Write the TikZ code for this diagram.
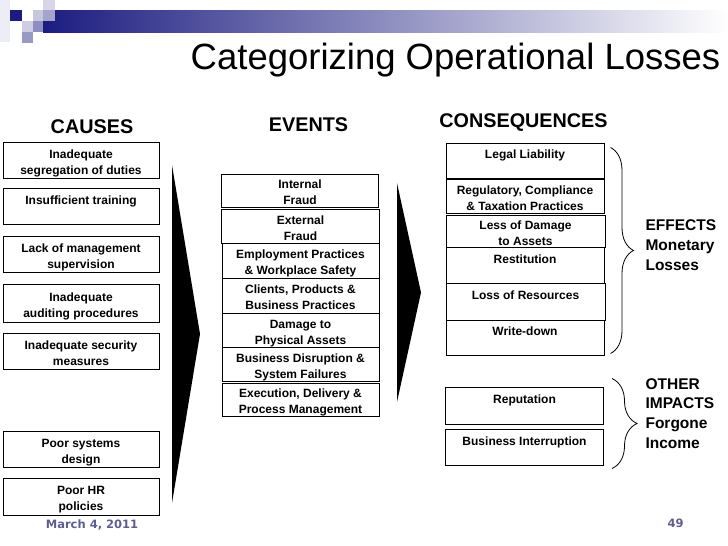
\documentclass[tikz,border=0pt]{standalone}
\usepackage{fontspec}
\setmainfont{Liberation Sans}
\newfontfamily\datefont{DejaVu Sans}
\usetikzlibrary{decorations.pathreplacing}
\usetikzlibrary{calc}
\definecolor{navy}{RGB}{28,28,128}
\definecolor{dategray}{RGB}{93,93,143}
\newcommand{\bigarrow}[4] % x of back edge, top y, bottom y, x of tip
{
	% black wedge pointing right
	\fill (#1,#2) -- (#4,{(#2+#3)/2}) -- (#1,#3) -- cycle;
}
\tikzset{
	box/.style={draw, line width=1pt, align=center, inner xsep=1pt, inner ysep=0pt,
		font=\fontsize{12}{16}\selectfont\bfseries,
		text height=28pt, text depth=0pt},
	causebox/.style={box, minimum width=156pt, minimum height=36pt},
	eventbox/.style={box, minimum width=157pt, minimum height=34pt},
	effectbox/.style={box, minimum width=158pt, minimum height=35pt},
	heading/.style={font=\fontsize{19.8}{22}\selectfont\bfseries, anchor=base},
	sidetext/.style={font=\fontsize{15.5}{19.7}\selectfont\bfseries, align=left, anchor=west},
	footer/.style={font=\datefont\fontsize{11.5}{14}\selectfont\bfseries, text=dategray, anchor=base},
	bracket/.style={decorate, line width=0.8pt},
}

\begin{document}
\begin{tikzpicture}[x=1pt, y=-1pt]
	% slide is 728 x 546, y runs downwards
	\useasboundingbox (0,0) rectangle (728,546);
	% header squares and bar
	\fill[navy!8] (0,0) rectangle (10,42);
	\shade[left color=navy, right color=white] (43,10) rectangle (728,32);
	\fill[navy] (10,10) rectangle (22,21);
	\fill[navy!22] (22,21) rectangle (33,32);
	\fill[navy!45] (22,32) rectangle (33,43);
	\fill[navy!25] (33,10) rectangle (43,21);
	\fill[navy!50] (33,21) rectangle (43,32);
	\fill[navy!18] (43,0) rectangle (55,10);
	\fill[navy!40] (43,10) rectangle (55,21);
	\node[font=\fontsize{36.5}{40}\selectfont, anchor=base] (title) at (455.5,69) {Categorizing Operational Losses};
	
	% column headings
	\node[heading] (causes) at (92,133) {CAUSES};
	\node[heading] (events) at (308.5,131) {EVENTS};
	\node[heading] (consequences) at (523.5,127) {CONSEQUENCES};
	
	% causes
	\node[causebox] (c1) at (81,160) {Inadequate\\segregation of duties};
	\node[causebox] (c2) at (81,206) {Insufficient training\\~};
	\node[causebox] (c3) at (81,254) {Lack of management\\supervision};
	\node[causebox, minimum height=38pt] (c4) at (81,303) {Inadequate\\auditing procedures};
	\node[causebox] (c5) at (81,351) {Inadequate security\\measures};
	\node[causebox] (c6) at (81,449) {Poor systems\\design};
	\node[causebox, minimum height=37pt] (c7) at (81,496.5) {Poor HR\\policies};
	
	% events
	\node[eventbox, minimum height=33pt] (e1) at (300,190.5) {Internal\\Fraud};
	\node[eventbox, minimum width=158pt] (e2) at (300.5,226) {External\\Fraud};
	\node[eventbox, minimum height=35pt] (e3) at (300.5,260.5) {Employment Practices\\\& Workplace Safety};
	\node[eventbox, minimum height=35pt] (e4) at (300.5,295.5) {Clients, Products \&\\Business Practices};
	\node[eventbox] (e5) at (300.5,330) {Damage to\\Physical Assets};
	\node[eventbox] (e6) at (300.5,364) {Business Disruption \&\\System Failures};
	\node[eventbox, minimum height=33pt] (e7) at (300.5,399.5) {Execution, Delivery \&\\Process Management};
	
	% consequences
	\node[effectbox] (q1) at (525,160.5) {Legal Liability\\~};
	\node[effectbox, minimum height=34pt] (q2) at (525,196) {Regulatory, Compliance\\\& Taxation Practices};
	\node[effectbox, minimum height=32pt, minimum width=159pt] (q3) at (525.5,231) {Less of Damage\\to Assets};
	\node[effectbox, minimum height=36pt] (q4) at (525,265) {Restitution\\~};
	\node[effectbox, minimum height=37pt, minimum width=159pt] (q5) at (525.5,301.5) {Loss of Resources\\~};
	\node[effectbox] (q6) at (525,337.5) {Write-down\\~};
	\node[effectbox, minimum height=37pt] (q7) at (524.5,405.5) {Reputation\\~};
	\node[effectbox, minimum height=36pt] (q8) at (524.5,447) {Business Interruption\\~};
	
	% big arrows between the columns
	\bigarrow{172}{165}{503}{200};
	\bigarrow{397}{183}{402}{421};
	
	% braces and their texts
	\coordinate (b1top) at ($(q1.north east)+(6,5)$);
	\coordinate (b1bot) at ($(q6.south east)+(6,-2)$);
	\coordinate (b2top) at ($(q7.north east)+(8,-8)$);
	\coordinate (b2bot) at ($(q8.south east)+(8,3)$);
	\draw[bracket, decoration={brace, amplitude=23pt}] (b1top) -- (b1bot);
	\draw[bracket, decoration={brace, amplitude=25pt}] (b2top) -- (b2bot);
	\node[sidetext] (effects) at (642,245) {EFFECTS\\Monetary\\Losses};
	\node[sidetext] (impacts) at (642,413.5) {OTHER\\IMPACTS\\Forgone\\Income};
	
	% footer
	\node[footer] (date) at (92,528) {March 4, 2011};
	\node[footer] (page) at (675.5,527) {49};
\end{tikzpicture}
\end{document}
